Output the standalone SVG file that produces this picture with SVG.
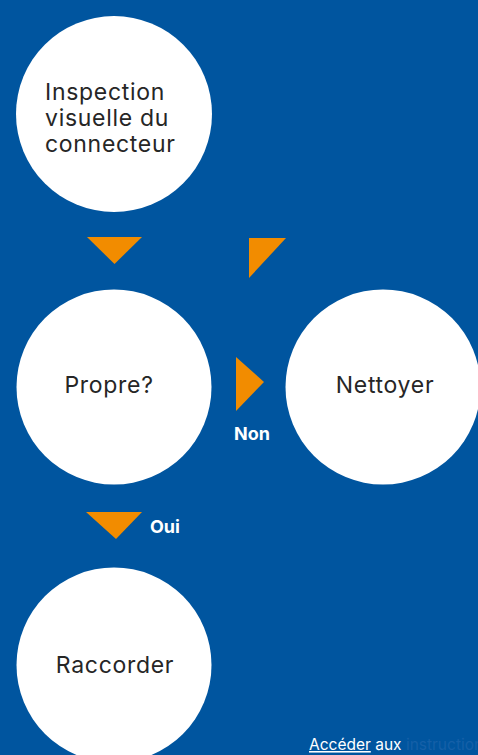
<svg xmlns="http://www.w3.org/2000/svg" width="478" height="755" viewBox="0 0 478 755">
<defs>
<style>
.node{fill:#ffffff}
.lbl{font-family:Inter,"Liberation Sans",sans-serif;font-size:23px;letter-spacing:0.7px;fill:#262626}
.arr{fill:#f28c00}
.edge{font-family:Inter,"Liberation Sans",sans-serif;font-size:18px;font-weight:700;fill:#ffffff}
.foot{font-family:Inter,"Liberation Sans",sans-serif;font-size:15.5px}
</style>
</defs>
<rect x="0" y="0" width="478" height="755" fill="#00559f"/>
<g id="node-inspection">
<circle class="node" cx="114" cy="114" r="98"/>
<text class="lbl" x="45" y="100">Inspection</text>
<text class="lbl" x="45" y="126">visuelle du</text>
<text class="lbl" x="45" y="152">connecteur</text>
</g>
<g id="node-propre">
<circle class="node" cx="114" cy="387" r="97.5"/>
<text class="lbl" x="109" y="393" text-anchor="middle">Propre?</text>
</g>
<g id="node-nettoyer">
<circle class="node" cx="383" cy="387" r="97.5"/>
<text class="lbl" x="385" y="393" text-anchor="middle">Nettoyer</text>
</g>
<g id="node-raccorder">
<circle class="node" cx="114" cy="665" r="97.5"/>
<text class="lbl" x="115" y="673" text-anchor="middle">Raccorder</text>
</g>
<g id="connectors">
<polygon class="arr" points="87,237 142,237 114.5,264"/>
<polygon class="arr" points="249,238 286,238 249,278"/>
<polygon class="arr" points="236,357 264,382 236,411"/>
<text class="edge" x="234" y="440">Non</text>
<polygon class="arr" points="86,512 142,512 116,539"/>
<text class="edge" x="150" y="533">Oui</text>
</g>
<g id="footer">
<text class="foot" x="309" y="750"><tspan fill="#ffffff" text-decoration="underline">Accéder</tspan><tspan fill="#ffffff"> aux </tspan><tspan fill="#1560a8">instructions</tspan></text>
</g>
</svg>
